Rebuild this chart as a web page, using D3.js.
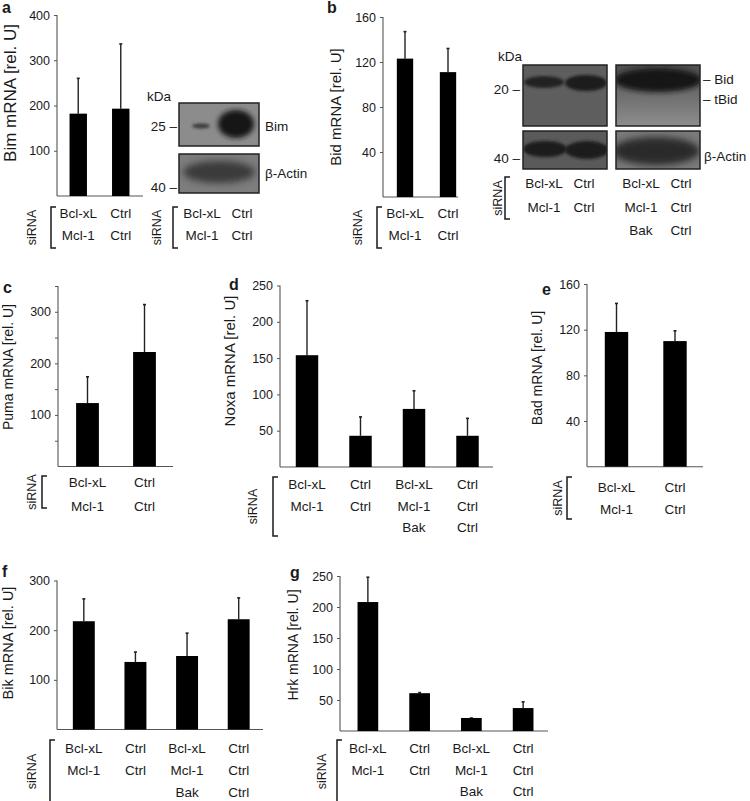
<!DOCTYPE html>
<html>
<head>
<meta charset="utf-8">
<script src="https://cdn.jsdelivr.net/npm/d3@7"></script>
<style>
  body { margin: 0; background: #fff; }
  text { font-family: "Liberation Sans", Arial, sans-serif; fill: #1a1a1a; }
</style>
</head>
<body>
<div id="main"></div>
<script>
// siRNA conditions
var cond2 = [["Bcl-xL", "Mcl-1"], ["Ctrl", "Ctrl"]];
var cond4 = [["Bcl-xL", "Mcl-1"], ["Ctrl", "Ctrl"], ["Bcl-xL", "Mcl-1", "Bak"], ["Ctrl", "Ctrl", "Ctrl"]];

// mRNA means and upper error (SD)
var bimMean = [182, 193],            bimErr = [78, 143];
var bidMean = [123, 111],            bidErr = [24, 21];
var pumaMean = [123, 222],           pumaErr = [51, 92];
var noxaMean = [154, 43, 80, 43],    noxaErr = [75, 26, 25, 24];
var badMean = [118, 110],            badErr = [25, 9];
var bikMean = [218, 136, 148, 222],  bikErr = [45, 20, 46, 43];
var hrkMean = [208, 61, 21, 37],     hrkErr = [40, 1, 0, 10];

// axis ticks
var bimTicks = [100, 200, 300, 400];
var bidTicks = [40, 80, 120, 160];
var pumaTicks = [50, 100, 150, 200, 250, 300, 350], pumaLabels = [100, 200, 300];
var noxaTicks = [50, 100, 150, 200, 250];
var badTicks = [40, 80, 120, 160];
var bikTicks = [100, 200, 300];
var hrkTicks = [50, 100, 150, 200, 250];

var W = 750, H = 801;
var svg = d3.select("#main").append("svg")
    .attr("width", W).attr("height", H);

var defs = svg.append("defs");
[1.5, 2.5, 3.5].forEach(function(s, i) {
  defs.append("filter").attr("id", "blur" + i)
      .attr("x", "-50%").attr("y", "-50%").attr("width", "200%").attr("height", "200%")
    .append("feGaussianBlur").attr("stdDeviation", s);
});

var ROW_FONT = 13.5;

function barPanel(p) {
  var g = svg.append("g");
  var x = d3.scaleBand().domain(d3.range(p.mean.length))
      .range(p.band).paddingInner(p.pad).paddingOuter(p.pad / 2);
  var y = d3.scaleLinear().domain([0, p.max]).range([p.y0, p.y1]);
  var labeled = p.labels || p.ticks;

  // y axis
  var ax = g.append("g")
      .attr("transform", "translate(" + p.ax + ",0)")
      .call(d3.axisLeft(y).tickValues(p.ticks).tickSize(3).tickSizeOuter(0).tickPadding(4)
        .tickFormat(function(d) { return labeled.indexOf(d) >= 0 ? d : ""; }));
  ax.select(".domain").attr("stroke", "#555").attr("stroke-width", 1.1)
      .attr("d", "M0," + y(0) + "V" + y(p.max));
  ax.selectAll(".tick line").attr("stroke", "#555");
  ax.selectAll(".tick text").style("font-size", "12.5px").attr("fill", "#1a1a1a")
      .style("font-family", '"Liberation Sans", Arial, sans-serif');

  // baseline
  g.append("line").attr("x1", p.ax).attr("x2", p.axEnd)
      .attr("y1", y(0)).attr("y2", y(0)).attr("stroke", "#555").attr("stroke-width", 1.1);

  // error bars
  g.selectAll(".err").data(p.mean).enter().append("line")
      .attr("x1", function(d, i) { return x(i) + x.bandwidth() / 2; })
      .attr("x2", function(d, i) { return x(i) + x.bandwidth() / 2; })
      .attr("y1", function(d) { return y(d); })
      .attr("y2", function(d, i) { return y(d + p.err[i]); })
      .attr("stroke", "#222").attr("stroke-width", 1.4);
  g.selectAll(".cap").data(p.mean).enter().append("line")
      .attr("x1", function(d, i) { return x(i) + x.bandwidth() / 2 - 1.5; })
      .attr("x2", function(d, i) { return x(i) + x.bandwidth() / 2 + 1.5; })
      .attr("y1", function(d, i) { return y(d + p.err[i]); })
      .attr("y2", function(d, i) { return y(d + p.err[i]); })
      .attr("stroke", "#222").attr("stroke-width", 1.6);

  // bars
  g.selectAll(".bar").data(p.mean).enter().append("rect")
      .attr("x", function(d, i) { return x(i); })
      .attr("width", x.bandwidth())
      .attr("y", function(d) { return y(d); })
      .attr("height", function(d) { return y(0) - y(d); })
      .attr("fill", "#000");

  // y label
  g.append("text")
      .attr("transform", "translate(" + p.lx + "," + p.ly + ") rotate(-90)")
      .attr("text-anchor", "middle").attr("dy", "0.35em")
      .style("font-size", (p.lsize || 14.5) + "px").text(p.label);

  // siRNA table
  var cx = p.cond.map(function(c, i) { return x(i) + x.bandwidth() / 2; });
  siRNA(p.cond, cx, p.sx, p.bx, p.by0, p.by1, p.rows);

  // panel letter
  g.append("text").attr("x", p.px).attr("y", p.py)
      .style("font-size", "16px").style("font-weight", "bold").text(p.letter);
}

function siRNA(cond, cx, sx, bx, by0, by1, rows) {
  var g = svg.append("g");
  g.append("text")
      .attr("transform", "translate(" + sx + "," + (by0 + by1) / 2 + ") rotate(-90)")
      .attr("text-anchor", "middle").attr("dy", "0.35em")
      .style("font-size", "12.5px").text("siRNA");
  g.append("path")
      .attr("d", "M" + (bx + 5) + "," + by0 + "H" + bx + "V" + by1 + "H" + (bx + 5))
      .attr("fill", "none").attr("stroke", "#1a1a1a").attr("stroke-width", 1.5);
  cond.forEach(function(c, i) {
    c.forEach(function(t, j) {
      g.append("text").attr("x", cx[i]).attr("y", rows[j]).attr("dy", "0.35em")
          .attr("text-anchor", "middle").style("font-size", ROW_FONT + "px").text(t);
    });
  });
}

barPanel({ letter: "a", px: 2, py: 13, mean: bimMean, err: bimErr, cond: cond2,
  max: 400, ticks: bimTicks, y0: 196, y1: 15, band: [57, 142], pad: 0.59, ax: 57, axEnd: 143,
  label: "Bim mRNA [rel. U]", lx: 10, ly: 93, lsize: 17,
  sx: 32, bx: 51, by0: 207, by1: 248, rows: [213, 235] });

barPanel({ letter: "b", px: 327, py: 13, mean: bidMean, err: bidErr, cond: cond2,
  max: 160, ticks: bidTicks, y0: 197, y1: 17, band: [383.5, 469.5], pad: 0.62, ax: 383, axEnd: 458,
  label: "Bid mRNA [rel. U]", lx: 336, ly: 107, lsize: 15,
  sx: 358, bx: 377, by0: 207, by1: 248, rows: [213, 235] });

barPanel({ letter: "c", px: 3, py: 293, mean: pumaMean, err: pumaErr, cond: cond2,
  max: 350, ticks: pumaTicks, labels: pumaLabels, y0: 466.5, y1: 286, band: [59, 173], pad: 0.6,
  ax: 58, axEnd: 173,
  label: "Puma mRNA [rel. U]", lx: 8, ly: 367, lsize: 14,
  sx: 32, bx: 42, by0: 476, by1: 508, rows: [482, 506] });

barPanel({ letter: "d", px: 229, py: 290, mean: noxaMean, err: noxaErr, cond: cond4,
  max: 250, ticks: noxaTicks, y0: 467, y1: 285.5, band: [280.25, 494.25], pad: 0.58,
  ax: 280, axEnd: 493,
  label: "Noxa mRNA [rel. U]", lx: 230, ly: 361, lsize: 15,
  sx: 253, bx: 273, by0: 477, by1: 536, rows: [484, 506, 527] });

barPanel({ letter: "e", px: 542, py: 295, mean: badMean, err: badErr, cond: cond2,
  max: 160, ticks: badTicks, y0: 466.7, y1: 284, band: [587.25, 704.25], pad: 0.6,
  ax: 587, axEnd: 703,
  label: "Bad mRNA [rel. U]", lx: 537, ly: 368, lsize: 14,
  sx: 558, bx: 567, by0: 477, by1: 519, rows: [487, 509] });

barPanel({ letter: "f", px: 2, py: 577, mean: bikMean, err: bikErr, cond: cond4,
  max: 300, ticks: bikTicks, y0: 729.5, y1: 580.5, band: [58, 264.5], pad: 0.575,
  ax: 57, axEnd: 263,
  label: "Bik mRNA [rel. U]", lx: 8, ly: 643, lsize: 14.5,
  sx: 32, bx: 50, by0: 740, by1: 803, rows: [748, 770, 792] });

barPanel({ letter: "g", px: 290, py: 578, mean: hrkMean, err: hrkErr, cond: cond4,
  max: 250, ticks: hrkTicks, y0: 731, y1: 576, band: [342, 549], pad: 0.6,
  ax: 340, axEnd: 548,
  label: "Hrk mRNA [rel. U]", lx: 293, ly: 645, lsize: 14,
  sx: 322, bx: 337, by0: 740, by1: 803, rows: [748, 770, 791] });

// ---- western blots (images in the original, sketched with blurred bands) ----
var clipN = 0;
function blot(x0, y0, w, h, bg, bands) {
  var id = "clip" + (clipN++);
  defs.append("clipPath").attr("id", id)
    .append("rect").attr("x", x0).attr("y", y0).attr("width", w).attr("height", h);
  var g = svg.append("g");
  g.append("rect").attr("x", x0).attr("y", y0).attr("width", w).attr("height", h).attr("fill", bg);
  var inner = g.append("g").attr("clip-path", "url(#" + id + ")");
  bands.forEach(function(b) {
    inner.append("ellipse").attr("cx", b[0]).attr("cy", b[1]).attr("rx", b[2]).attr("ry", b[3])
        .attr("fill", b[4]).attr("filter", "url(#blur" + b[5] + ")");
  });
  g.append("rect").attr("x", x0).attr("y", y0).attr("width", w).attr("height", h)
      .attr("fill", "none").attr("stroke", "#222").attr("stroke-width", 1.5);
}

function label(x, y, t, anchor, size) {
  svg.append("text").attr("x", x).attr("y", y).attr("dy", "0.35em")
      .attr("text-anchor", anchor || "start").style("font-size", (size || 13.5) + "px").text(t);
}

// blot a
blot(179, 103, 80, 43, "#8c8c8c", [[201, 126, 9, 2.5, "#3a3a3a", 0], [236, 124, 18, 14, "#151515", 1]]);
blot(179, 154, 80, 39, "#7d7d7d", [[219, 172, 36, 11, "#3a3a3a", 2]]);
label(147, 96, "kDa");
label(177, 126, "25 \u2013", "end");
label(177, 187, "40 \u2013", "end");
label(265, 126, "Bim");
label(265, 173, "\u03b2-Actin");
siRNA(cond2, [202, 242], 157, 173, 207, 248, [213, 235]);

// blot b
var gradA = defs.append("linearGradient").attr("id", "gA").attr("x1", 0).attr("x2", 0).attr("y1", 0).attr("y2", 1);
gradA.append("stop").attr("offset", "0%").attr("stop-color", "#4e4e4e");
gradA.append("stop").attr("offset", "100%").attr("stop-color", "#8e8e8e");
blot(523, 65, 84, 61, "#5e5e5e", [[544, 82, 20, 6, "#222", 0], [586, 83, 21, 8, "#1a1a1a", 0]]);
blot(616, 65, 84, 61, "url(#gA)", [[658, 80, 44, 12, "#141414", 1]]);
blot(523, 131, 84, 38, "#5a5a5a", [[545, 149, 22, 8, "#1a1a1a", 0], [587, 150, 22, 9, "#1a1a1a", 0]]);
blot(616, 131, 84, 38, "#7a7a7a", [[656, 151, 44, 14, "#2a2a2a", 2]]);
label(498, 56, "kDa");
label(520, 89, "20 \u2013", "end");
label(520, 158, "40 \u2013", "end");
label(703, 79, "\u2013 Bid");
label(703, 99, "\u2013 tBid");
label(704, 156, "\u03b2-Actin");
siRNA(cond4, [544, 584, 641, 681], 498, 505, 177, 219, [183, 207, 230]);
</script>
</body>
</html>
